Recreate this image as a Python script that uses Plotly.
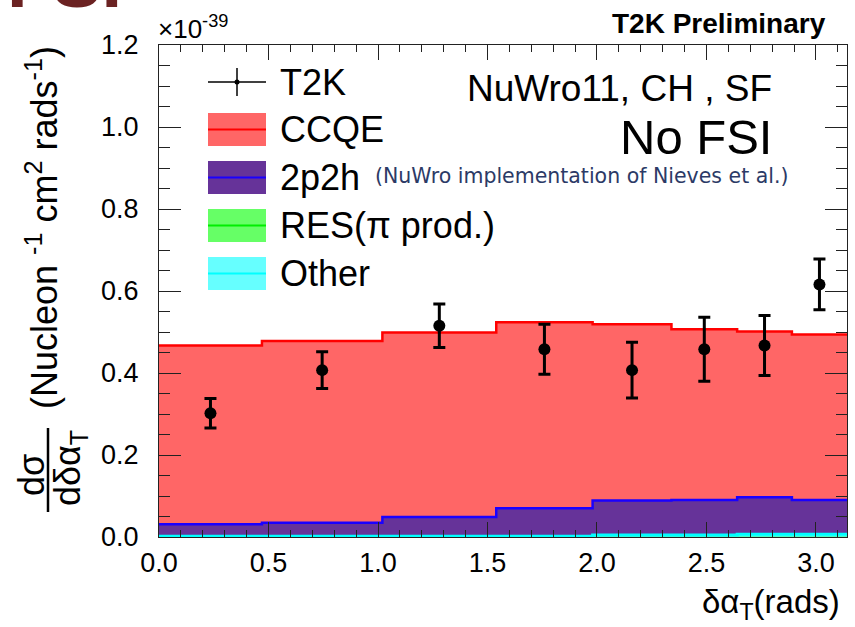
import plotly.graph_objects as go
import numpy as np

# ---------------- data ----------------
bin_edges = [0.0, 0.47, 1.02, 1.54, 1.98, 2.34, 2.64, 2.89, 3.1416]
res_vals = [0.0, 0.0, 0.0, 0.0, 0.0, 0.0, 0.0, 0.0]
other_vals = [0.002, 0.002, 0.002, 0.002, 0.005, 0.005, 0.007, 0.007]
mec_vals = [0.029, 0.033, 0.047, 0.068, 0.084, 0.085, 0.090, 0.083]
ccqe_vals = [0.436, 0.443, 0.450, 0.454, 0.430, 0.417, 0.404, 0.404]
t2k_vals = [0.302, 0.407, 0.515, 0.458, 0.407, 0.458, 0.467, 0.616]
t2k_errs = [0.036, 0.045, 0.053, 0.061, 0.068, 0.078, 0.073, 0.062]
x_ticks = [0.0, 0.5, 1.0, 1.5, 2.0, 2.5, 3.0]
y_ticks = [0.0, 0.2, 0.4, 0.6, 0.8, 1.0, 1.2]

W, H = 855, 627
L, R, T, B = 159, 847, 45, 537
FONT = "Liberation Sans, Arial, Helvetica, sans-serif"


def px(x):
    return (x - L) / (R - L)


def py(y):
    return (B - y) / (B - T)


edges = np.array(bin_edges)
centers = 0.5 * (edges[:-1] + edges[1:])

components = [
    ("RES", res_vals, "#66ff66", "#00ee00", 0.5),
    ("Other", other_vals, "#66ffff", "#00ffff", 3),
    ("2p2h", mec_vals, "#663399", "#1a00ff", 2.5),
    ("CCQE", ccqe_vals, "#ff6666", "#ff0000", 2.5),
]

fig = go.Figure()
cum = np.zeros(len(centers))
for i, (name, vals, fillc, linec, lw) in enumerate(components):
    cum = cum + np.array(vals)
    ys = list(cum) + [cum[-1]]
    fig.add_trace(go.Scatter(
        x=list(edges), y=ys, mode="lines", name=name,
        line=dict(shape="hv", color=linec, width=lw),
        fill="tozeroy" if i == 0 else "tonexty",
        fillcolor=fillc, hoverinfo="skip",
    ))

fig.add_trace(go.Scatter(
    x=list(centers), y=t2k_vals, mode="markers", name="T2K",
    marker=dict(color="black", size=12, symbol="circle"),
    error_y=dict(type="data", array=t2k_errs, visible=True,
                 thickness=3, width=6, color="black"),
))

axis_common = dict(
    showgrid=False, zeroline=False, showline=True, linecolor="#222",
    linewidth=1.2, mirror="ticks", ticks="inside", tickcolor="#222",
    tickfont=dict(family=FONT, size=27, color="black"),
)

fig.update_xaxes(
    range=[0, 3.1416], tickvals=x_ticks, ticktext=[f"{v:.1f}" for v in x_ticks],
    ticklen=15, tickwidth=1.2, ticklabelstandoff=1,
    minor=dict(dtick=0.1, ticklen=7, ticks="inside", tickcolor="#222", tickwidth=1),
    **axis_common,
)
fig.update_yaxes(
    range=[0, 1.2], tickvals=y_ticks, ticktext=[f"{v:.1f}" for v in y_ticks],
    ticklen=22, tickwidth=1.2, ticklabelstandoff=14,
    minor=dict(dtick=0.05, ticklen=11, ticks="inside", tickcolor="#222", tickwidth=1),
    **axis_common,
)

ann = []
shapes = []


def text(x, y, s, size, xa="center", ya="middle", angle=0, color="black",
         family=FONT, bold=False):
    if bold:
        s = f"<b>{s}</b>"
    ann.append(dict(x=px(x), y=py(y), xref="paper", yref="paper", text=s,
                    showarrow=False, xanchor=xa, yanchor=ya, textangle=angle,
                    font=dict(family=family, size=size, color=color)))


# legend
lx0, lx1, tx = 208, 266, 278
shapes.append(dict(type="line", xref="paper", yref="paper", x0=px(lx0), x1=px(lx1),
                   y0=py(82), y1=py(82), line=dict(color="black", width=1.5)))
shapes.append(dict(type="line", xref="paper", yref="paper", x0=px(237), x1=px(237),
                   y0=py(68), y1=py(96), line=dict(color="black", width=1.5)))
shapes.append(dict(type="circle", xref="paper", yref="paper", x0=px(234.5), x1=px(239.5),
                   y0=py(84.5), y1=py(79.5), fillcolor="black", line=dict(width=0)))
text(tx, 82, "T2K", 36, xa="left")

leg_items = [
    ("CCQE", "#ff6666", "#ff0000", 129.5),
    ("2p2h", "#663399", "#1a00ff", 177.5),
    ("RES(π prod.)", "#66ff66", "#00ee00", 225.5),
    ("Other", "#66ffff", "#00ffff", 273.5),
]
for lab, fc, lc, yc in leg_items:
    shapes.append(dict(type="rect", xref="paper", yref="paper", x0=px(lx0), x1=px(lx1),
                       y0=py(yc + 16.5), y1=py(yc - 16.5), fillcolor=fc,
                       line=dict(width=0)))
    shapes.append(dict(type="line", xref="paper", yref="paper", x0=px(lx0), x1=px(lx1),
                       y0=py(yc), y1=py(yc), line=dict(color=lc, width=2)))
    text(tx, yc, lab, 36, xa="left")

text(373, 176, "(NuWro implementation of Nieves et al.)", 20.5, xa="left",
     color="#2c3a66", family="DejaVu Sans, sans-serif")

# labels
text(774, 88, "NuWro11, CH , SF", 37, xa="right")
text(774, 137, "No FSI", 49, xa="right")
text(828, 24, "T2K Preliminary", 28, xa="right", bold=True)
text(156, 46, "×10<sup>-39</sup>", 26, xa="left", ya="bottom")
text(842, 604, "δα<sub>T</sub>(rads)", 33, xa="right")

# y title
text(42, 228, "(Nucleon <sup>-1</sup> cm<sup>2</sup> rads<sup>-1</sup>)", 36, angle=-90)
text(31, 475, "dσ", 36, angle=-90)
text(70, 468, "dδα<sub>T</sub>", 36, angle=-90)
shapes.append(dict(type="line", xref="paper", yref="paper", x0=px(48), x1=px(48),
                   y0=py(428), y1=py(512), line=dict(color="black", width=2.5)))

# cut-off slide title fragment
text(5, 25, "FSI", 74, xa="left", ya="bottom", color="#6b2222", bold=True)

fig.update_layout(
    width=W, height=H,
    margin=dict(l=L, r=W - R, t=T, b=H - B, pad=0),
    paper_bgcolor="white", plot_bgcolor="white",
    showlegend=False, annotations=ann, shapes=shapes,
)

fig.write_html("out.html")
